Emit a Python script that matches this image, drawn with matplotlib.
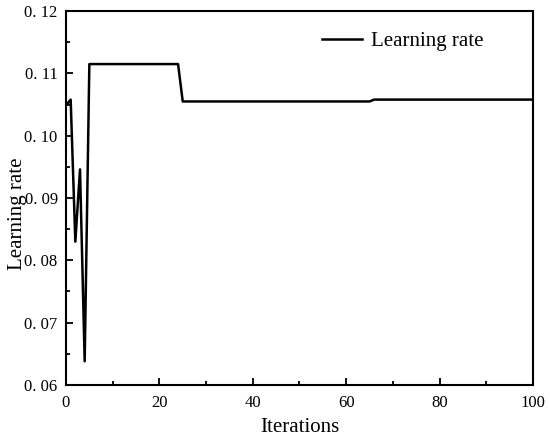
import matplotlib
matplotlib.use("Agg")
import matplotlib.pyplot as plt
from matplotlib.ticker import FuncFormatter, MultipleLocator

# Learning rate curve (breakpoints)
iterations = [0, 1, 2, 3, 4, 5, 24, 25, 65, 66, 100]
learning_rate = [0.1049, 0.1058, 0.0830, 0.0946, 0.0638, 0.1115,
                 0.1115, 0.1055, 0.1055, 0.1058, 0.1058]

plt.rcParams['font.family'] = ['Liberation Serif', 'DejaVu Serif']

fig = plt.figure(figsize=(5.5, 4.45), dpi=100)
ax = fig.add_axes([0.12, 0.135, 0.849, 0.84])

ax.plot(iterations, learning_rate, color='black', linewidth=1.8,
        label='Learning rate')

ax.set_xlim(0, 100)
ax.set_ylim(0.06, 0.12)
ax.xaxis.set_major_locator(MultipleLocator(20))
ax.xaxis.set_minor_locator(MultipleLocator(10))
ax.yaxis.set_major_locator(MultipleLocator(0.01))
ax.yaxis.set_minor_locator(MultipleLocator(0.005))
ax.yaxis.set_major_formatter(FuncFormatter(lambda v, p: f"{v:.2f}".replace(".", ". ")))

ax.tick_params(which='both', direction='in', width=1.3, labelsize=12)
ax.tick_params(which='major', length=5)
ax.tick_params(which='minor', length=3)
ax.tick_params(axis='x', pad=7)
ax.tick_params(axis='y', pad=6)
for s in ax.spines.values():
    s.set_linewidth(1.5)

ax.set_xlabel("Iterations", fontsize=15, labelpad=5)
ax.set_ylabel("Learning rate", fontsize=15)
ax.yaxis.set_label_coords(-0.083, 0.457)

ax.legend(loc='upper right', frameon=False, fontsize=15, handlelength=1.9,
          handletextpad=0.45, bbox_to_anchor=(0.935, 0.995))

fig.savefig("out.png", dpi=100)
